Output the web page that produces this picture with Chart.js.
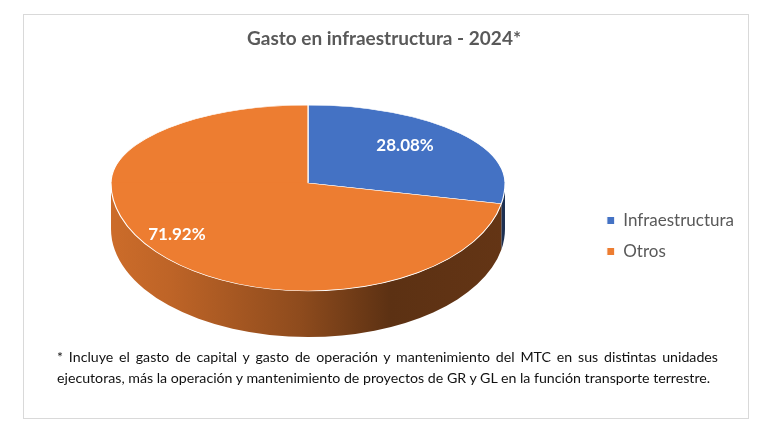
<!DOCTYPE html>
<html>
<head>
<meta charset="utf-8">
<script src="https://cdn.jsdelivr.net/npm/chart.js@4/dist/chart.umd.min.js"></script>
<style>
body{margin:0;background:#fff;}
#box{position:absolute;left:23px;top:14px;width:724px;height:403px;border:1px solid #d9d9d9;background:#fff;}
#wrap{position:absolute;left:0;top:0;width:724px;height:403px;}
#nota{position:absolute;left:33px;top:331px;width:661px;font-family:Lato,sans-serif;font-size:14.2px;line-height:21px;color:#111;}
.j{text-align:justify;text-align-last:justify;}
</style>
</head>
<body>
<div id="box">
	<div id="wrap"><canvas id="myChart"></canvas></div>
	<div id="nota">
		<div class="j">* Incluye el gasto de capital y gasto de operación y mantenimiento del MTC en sus distintas unidades</div>
		<div>ejecutoras, más la operación y mantenimiento de proyectos de GR y GL en la función transporte terrestre.</div>
	</div>
</div>
<script>
var titulo = "Gasto en infraestructura - 2024*";
var categorias = ["Infraestructura", "Otros"];
var porcentajes = [28.08, 71.92];
var colores = ["#4472c4", "#ed7d31"];

// pie "3d": top face drawn by chart.js arcs, squashed; side added below
var CX = 284, CY = 168, R = 197, RY_TOP = 78, RY_BOT = 108, DEPTH = 46;
var LABEL_DX = -17;

function shade(hex, f){
	var n = parseInt(hex.slice(1), 16);
	var r = Math.round(((n >> 16) & 255) * f), g = Math.round(((n >> 8) & 255) * f), b = Math.round((n & 255) * f);
	return "rgb(" + r + "," + g + "," + b + ")";
}

var pie3d = {
	id: "pie3d",
	beforeDatasetsDraw: function(chart){
		var ctx = chart.ctx;
		var meta = chart.getDatasetMeta(0);
		var w = chart.width, h = chart.height;

		// side (front half only)
		meta.data.forEach(function(arc, i){
			var a0 = arc.startAngle, a1 = arc.endAngle;
			var s = Math.max(a0, 0), e = Math.min(a1, Math.PI);
			if (e <= s) return;
			var base = colores[i];
			var grad = ctx.createLinearGradient(CX - R, 0, CX + R, 0);
			grad.addColorStop(0, shade(base, 0.86));
			grad.addColorStop(0.15, shade(base, 0.8));
			grad.addColorStop(0.48, shade(base, 0.6));
			grad.addColorStop(0.71, shade(base, 0.39));
			grad.addColorStop(1, shade(base, 0.42));
			ctx.save();
			ctx.beginPath();
			ctx.ellipse(CX, CY, R, RY_BOT, 0, s, e, false);
			ctx.ellipse(CX, CY + DEPTH, R, RY_BOT, 0, e, s, true);
			ctx.closePath();
			ctx.fillStyle = grad;
			ctx.fill();
			ctx.restore();
		});

		// top face: back half flatter than front half
		var halves = [[0, CY + 0.5, RY_TOP], [CY - 0.5, h, RY_BOT]];
		halves.forEach(function(hv){
			ctx.save();
			ctx.beginPath();
			ctx.rect(0, hv[0], w, hv[1] - hv[0]);
			ctx.clip();
			ctx.translate(CX, CY);
			ctx.scale(1, hv[2] / R);
			meta.data.forEach(function(arc){
				ctx.save();
				ctx.translate(-arc.x, -arc.y);
				arc.draw(ctx);
				ctx.restore();
			});
			ctx.restore();
		});

		// data labels
		ctx.save();
		ctx.font = "bold 17px Lato";
		ctx.fillStyle = "#ffffff";
		ctx.textAlign = "center";
		ctx.textBaseline = "middle";
		meta.data.forEach(function(arc, i){
			var m = (arc.startAngle + arc.endAngle) / 2;
			var f = 0.75;
			var dy = Math.sin(m);
			var ry = dy < 0 ? RY_TOP : RY_BOT;
			var x = CX + R * f * Math.cos(m) + LABEL_DX;
			var y = CY + ry * f * dy;
			ctx.fillText(porcentajes[i].toFixed(2) + "%", x, y);
		});
		ctx.restore();
		return false;
	}
};

var ctx = document.getElementById("myChart");

var myChart = new Chart(ctx, {
	type: "pie",
	data: {
		labels: categorias,
		datasets: [{
			data: porcentajes,
			backgroundColor: colores,
			borderColor: "#ffffff",
			borderWidth: 1.2,
			radius: R
		}]
	},
	options: {
		responsive: true,
		maintainAspectRatio: false,
		animation: false,
		events: [],
		layout: { padding: { right: 4, bottom: 144 } },
		plugins: {
			title: {
				display: true,
				text: titulo,
				color: "#595959",
				font: { family: "Lato", size: 19, weight: "bold" },
				padding: { top: 12, bottom: 10 }
			},
			legend: {
				position: "right",
				align: "end",
				labels: {
					boxWidth: 8,
					boxHeight: 8,
					padding: 14,
					color: "#595959",
					font: { family: "Lato", size: 17 }
				}
			},
			tooltip: { enabled: false }
		}
	},
	plugins: [pie3d]
});
</script>
</body>
</html>
